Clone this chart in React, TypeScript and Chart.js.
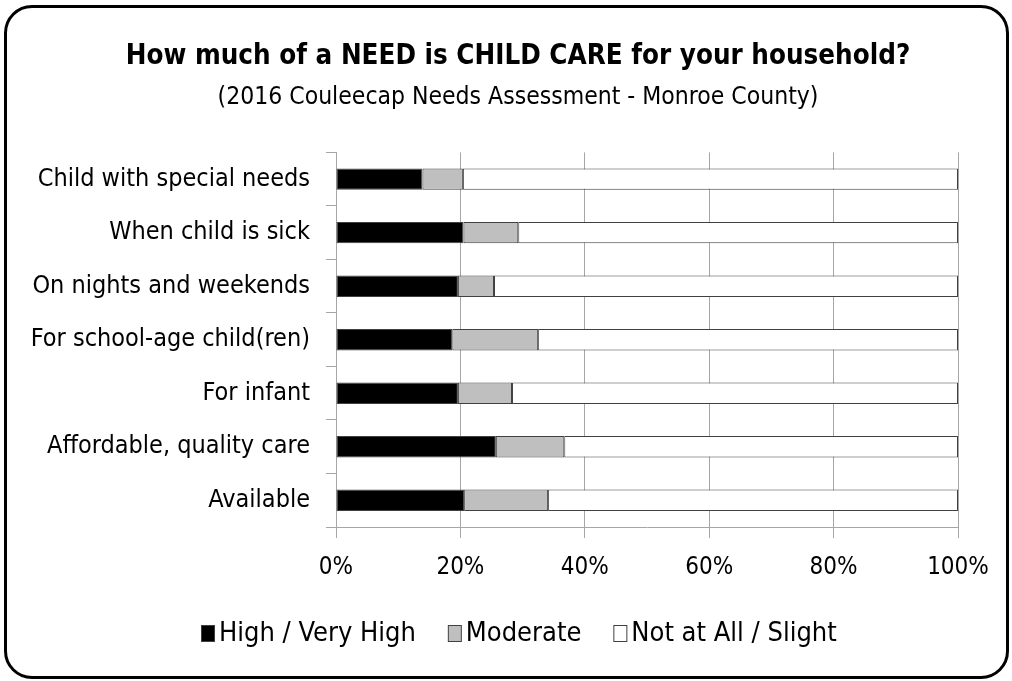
import React, { useEffect, useRef } from "react";
import { Chart, registerables } from "chart.js";

Chart.register(...registerables);

const categories = [
  "Child with special needs",
  "When child is sick",
  "On nights and weekends",
  "For school-age child(ren)",
  "For infant",
  "Affordable, quality care",
  "Available",
];
const highValues = [13.9, 20.5, 19.6, 18.7, 19.6, 25.7, 20.6];
const moderateValues = [6.5, 8.8, 5.8, 13.8, 8.7, 11.0, 13.5];
const notAtAllValues = [79.6, 70.7, 74.6, 67.5, 71.7, 63.3, 65.9];
const seriesNames = ["High / Very High", "Moderate", "Not at All / Slight"];
const xTickValues = [0, 20, 40, 60, 80, 100];

const FONT = "'Liberation Sans Narrow', 'DejaVu Sans Condensed', 'Noto Sans', sans-serif";
const GRID = "#a6a6a6";
const PAD_L = 24;
const RIGHT_W = 54;

const legendPlugin = {
  id: "customLegend",
  afterDraw(chart: any) {
    const ctx = chart.ctx;
    const ds = chart.data.datasets;
    ctx.save();
    ctx.font = `27px ${FONT}`;
    ctx.textBaseline = "middle";
    ctx.textAlign = "left";
    const boxW = 13;
    const boxH = 16;
    const gapBox = 5;
    const gapItem = 32;
    const widths = ds.map((d: any) => boxW + gapBox + ctx.measureText(d.label).width);
    const total = widths.reduce((a: number, b: number) => a + b, 0) + gapItem * (ds.length - 1);
    const cx = 519;
    let x = Math.round(cx - total / 2);
    const y = 633;
    ds.forEach((d: any, i: number) => {
      ctx.fillStyle = d.backgroundColor;
      ctx.fillRect(x + 0.5, y - boxH / 2 + 0.5, boxW, boxH);
      ctx.strokeStyle = "#404040";
      ctx.lineWidth = 1;
      ctx.strokeRect(x + 0.5, y - boxH / 2 + 0.5, boxW, boxH);
      ctx.fillStyle = "#000";
      ctx.fillText(d.label, x + boxW + gapBox, y + 1);
      x += widths[i] + gapItem;
    });
    ctx.restore();
  },
};

export default function App() {
  const ref = useRef<HTMLCanvasElement | null>(null);
  useEffect(() => {
    if (!ref.current) return;
    const chart = new Chart(ref.current, {
      type: "bar",
      data: {
        labels: categories,
        datasets: [
          { label: seriesNames[0], data: highValues, backgroundColor: "#000000" },
          { label: seriesNames[1], data: moderateValues, backgroundColor: "#bfbfbf" },
          { label: seriesNames[2], data: notAtAllValues, backgroundColor: "#ffffff" },
        ].map((d) => ({
          ...d,
          yAxisID: "y",
          borderColor: "#404040",
          borderWidth: 1,
          borderSkipped: false,
          barPercentage: 0.4,
          categoryPercentage: 1,
        })),
      },
      options: {
        indexAxis: "y",
        responsive: false,
        animation: false,
        devicePixelRatio: 1,
        layout: { padding: { left: PAD_L, right: 0, top: 0, bottom: 97 } },
        scales: {
          x: {
            stacked: true,
            min: 0,
            max: 100,
            afterBuildTicks: (s: any) => {
              s.ticks = xTickValues.map((v) => ({ value: v }));
            },
            afterFit: (s: any) => {
              s.height = 57;
            },
            ticks: {
              callback: (v: any) => v + "%",
              color: "#000",
              font: { family: FONT, size: 24 },
              padding: 15,
              maxRotation: 0,
            },
            grid: { color: GRID, tickLength: 11, lineWidth: 1 },
            border: { display: true, color: GRID },
          },
          y: {
            stacked: true,
            afterFit: (s: any) => {
              s.width = 336 - PAD_L;
            },
            ticks: {
              color: "#000",
              font: { family: FONT, size: 25 },
              padding: 16,
            },
            grid: { drawOnChartArea: false, color: GRID, tickLength: 10, offset: true },
            border: { display: true, color: GRID },
          },
          yRight: {
            type: "category",
            position: "right",
            display: true,
            afterFit: (s: any) => {
              s.width = RIGHT_W;
            },
            ticks: { display: false },
            grid: { display: false, drawTicks: false },
            border: { display: false },
          },
        },
        plugins: {
          legend: { display: false },
          tooltip: { enabled: false },
          title: {
            display: true,
            text: "How much of a NEED is CHILD CARE for your household?",
            color: "#000",
            font: { family: FONT, size: 27.5, weight: "bold" },
            padding: { top: 40, bottom: 9.5 },
          },
          subtitle: {
            display: true,
            text: "(2016 Couleecap Needs Assessment - Monroe County)",
            color: "#000",
            font: { family: FONT, size: 24.5, weight: "normal" },
            padding: { top: 0, bottom: 40.5 },
          },
        },
      },
      plugins: [legendPlugin],
    } as any);
    return () => chart.destroy();
  }, []);

  return (
    <div style={{ position: "fixed", left: 0, top: 0, width: 1012, height: 681, background: "#fff" }}>
      <canvas ref={ref} width={1012} height={681} style={{ position: "absolute", left: 0, top: 0, width: 1012, height: 681 }} />
      <div
        style={{
          position: "absolute",
          left: 4,
          top: 5,
          width: 1005,
          height: 674,
          border: "3px solid #000",
          borderRadius: 28,
          boxSizing: "border-box",
          pointerEvents: "none",
        }}
      />
    </div>
  );
}
